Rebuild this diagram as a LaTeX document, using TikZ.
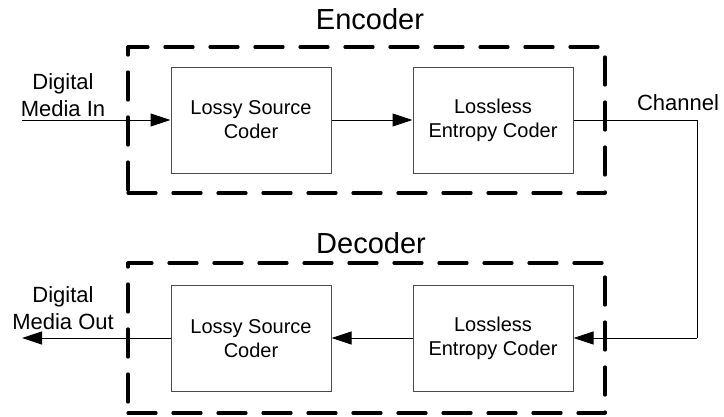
\documentclass[tikz,border=0pt]{standalone}
\usepackage{fontspec}
\setmainfont{Liberation Sans}
\usetikzlibrary{arrows.meta}
\begin{document}
\begin{tikzpicture}[x=1pt,y=-1pt,
  dashbox/.style={draw=black, line width=3.2pt, dash pattern=on 28pt off 17pt, line cap=round, line join=round, minimum width=477pt, inner sep=0pt},
  coderbox/.style={draw=black!70, line width=1pt, minimum width=160pt, minimum height=106pt, align=center, inner sep=0pt, font=\fontsize{20}{24}\selectfont},
  title/.style={font=\fontsize{29}{34}\selectfont, inner sep=0pt},
  side/.style={font=\fontsize{22}{26.5}\selectfont, align=center, inner sep=0pt},
  conn/.style={draw=black, line width=1pt, -{Triangle[length=20pt,width=13pt]}},
  plain/.style={draw=black, line width=1pt}]
\useasboundingbox (0,0) rectangle (724,416);
% boxes
\node[dashbox, minimum height=146pt] (encbox) at (366.5,120) {};
\node[dashbox, minimum height=150pt] (decbox) at (366.5,338) {};
\node[coderbox] (encL) at (251,120) {Lossy Source\\Coder};
\node[coderbox] (encR) at (493,120) {Lossless\\Entropy Coder};
\node[coderbox] (decL) at (251,338.5) {Lossy Source\\Coder};
\node[coderbox] (decR) at (493,338.5) {Lossless\\Entropy Coder};
% titles
\node[title] (enct) at (370,19) {Encoder};
\node[title] (dect) at (371,243) {Decoder};
\node[side] (inlab) at (63,95) {Digital\\Media In};
\node[side] (outlab) at (63,308) {Digital\\Media Out};
\node[side] (chlab) at (678,103) {Channel};
% coordinates
\coordinate (in) at (22,120);
\coordinate (out) at (22,338);
\coordinate (c1) at (697,120);
\coordinate (c2) at (697,338);
% connectors
\draw[conn] (in) -- (encL.west);
\draw[conn] (encL.east) -- (encR.west);
\draw[plain] (encR.east) -- (c1) -- (c2);
\draw[conn] (c2) -- (decR.east |- c2);
\draw[conn] (decR.west |- c2) -- (decL.east |- c2);
\draw[conn] (decL.west |- c2) -- (out);
\end{tikzpicture}
\end{document}
